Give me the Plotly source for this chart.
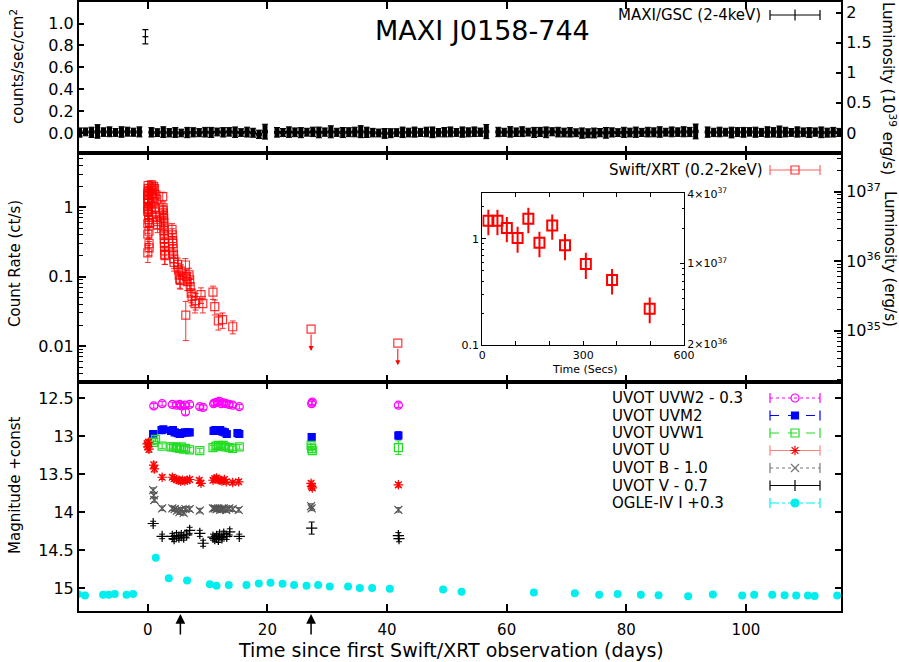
import math
import plotly.graph_objects as go

FONT = "DejaVu Sans"

# ---------------- MAXI/GSC (2-4 keV), 1-day bins ----------------
maxi_t = [-11.4, -10.4, -9.4, -8.4, -7.4, -6.4, -5.4, -4.4, -3.4, -2.4, -1.4,
          0.6, 1.6, 2.6, 3.6, 4.6, 5.6, 6.6, 7.6, 8.6, 9.6,
          10.6, 11.6, 12.6, 13.6, 14.6, 15.6, 16.6, 17.6, 18.6, 19.6,
          21.6, 22.6, 23.6, 24.6, 25.6, 26.6, 27.6, 28.6, 29.6,
          30.6, 31.6, 32.6, 33.6, 34.6, 35.6, 36.6, 37.6, 38.6, 39.6,
          40.6, 41.6, 42.6, 43.6, 44.6, 45.6, 46.6, 47.6, 48.6, 49.6,
          50.6, 51.6, 52.6, 53.6, 54.6, 55.6, 56.6, 58.6, 59.6,
          60.6, 61.6, 62.6, 63.6, 64.6, 65.6, 66.6, 67.6, 68.6, 69.6,
          70.6, 71.6, 72.6, 73.6, 74.6, 75.6, 76.6, 77.6, 78.6, 79.6,
          80.6, 81.6, 82.6, 83.6, 84.6, 85.6, 86.6, 87.6, 88.6, 89.6,
          90.6, 91.6, 93.6, 94.6, 95.6, 96.6, 97.6, 98.6, 99.6,
          100.6, 101.6, 102.6, 103.6, 104.6, 105.6, 106.6, 107.6, 108.6, 109.6,
          110.6, 111.6, 112.6, 113.6, 114.6, 115.6]
maxi_rate = [0.004, 0.010, 0.006, 0.014, 0.008, 0.011, 0.005, 0.009, 0.012, 0.007, 0.010,
             0.006, 0.003, 0.008, 0.002, 0.005, 0.000, 0.004, 0.006, 0.003, 0.007,
             0.005, 0.009, 0.006, 0.010, 0.007, 0.004, 0.008, 0.002, -0.012, 0.012,
             0.006, 0.004, 0.008, 0.006, 0.003, 0.007, 0.010, 0.005, 0.008,
             0.011, 0.006, 0.004, 0.007, 0.009, 0.012, 0.006, 0.003, 0.000, -0.004,
             -0.002, 0.003, 0.006, 0.004, 0.008, 0.005, 0.009, 0.006, 0.003, 0.007,
             0.010, 0.005, 0.008, 0.006, 0.011, 0.007, 0.013, 0.009, 0.006,
             0.010, 0.007, 0.012, 0.008, 0.005, 0.009, 0.006, 0.011, 0.008, 0.004,
             0.006, 0.002, -0.001, -0.003, 0.000, 0.003, 0.001, 0.005, 0.003, 0.006,
             0.004, 0.007, 0.005, 0.008, 0.006, 0.009, 0.007, 0.010, 0.008, 0.011,
             0.009, 0.014, 0.008, 0.005, 0.009, 0.007, 0.004, 0.008, 0.006,
             0.010, 0.007, 0.005, 0.009, 0.006, 0.012, 0.008, 0.005, 0.009, 0.006,
             0.004, 0.008, 0.006, 0.003, 0.007, 0.005]
maxi_err = [0.042, 0.036, 0.047, 0.062, 0.039, 0.045, 0.036, 0.048, 0.041, 0.037, 0.046,
            0.043, 0.036, 0.049, 0.038, 0.045, 0.035, 0.047, 0.042, 0.037, 0.044,
            0.046, 0.036, 0.043, 0.039, 0.048, 0.035, 0.045, 0.041, 0.038, 0.068,
            0.044, 0.037, 0.048, 0.040, 0.046, 0.036, 0.043, 0.049, 0.038,
            0.055, 0.037, 0.046, 0.041, 0.044, 0.055, 0.047, 0.039, 0.036, 0.045,
            0.041, 0.036, 0.048, 0.040, 0.046, 0.037, 0.044, 0.049, 0.038, 0.043,
            0.045, 0.036, 0.047, 0.041, 0.044, 0.038, 0.065, 0.043, 0.037,
            0.048, 0.039, 0.045, 0.036, 0.046, 0.042, 0.049, 0.037, 0.044, 0.040,
            0.043, 0.036, 0.047, 0.041, 0.045, 0.038, 0.049, 0.042, 0.036, 0.046,
            0.040, 0.047, 0.037, 0.044, 0.041, 0.048, 0.036, 0.045, 0.039, 0.046,
            0.042, 0.068, 0.047, 0.038, 0.044, 0.036, 0.049, 0.041, 0.045,
            0.039, 0.046, 0.037, 0.048, 0.043, 0.052, 0.044, 0.036, 0.047, 0.040,
            0.045, 0.038, 0.049, 0.041, 0.044, 0.037]
maxi_flare_t = [-0.4]
maxi_flare_rate = [0.880]
maxi_flare_err = [0.065]

# ---------------- Swift/XRT (0.2-2 keV) ----------------
xrt_t = [0.0002, 0.0005, 0.0008, 0.0012, 0.0016, 0.0020, 0.0024, 0.0028, 0.0036, 0.0045, 0.0058,
         0.06, 0.07, 0.08, 0.09, 0.13, 0.14, 0.15, 0.16, 0.20, 0.21, 0.22, 0.27,
         0.62, 0.70, 0.75, 0.82, 0.90, 0.98, 1.05, 1.12, 1.20, 1.28, 1.35, 1.42, 1.50, 1.58, 1.65,
         2.50, 2.55, 2.58, 2.60, 2.63, 2.66, 2.68, 2.70, 2.72, 2.74, 2.76, 2.78, 2.80, 2.82, 2.84, 2.86,
         4.05, 4.10, 4.15, 4.20, 4.25, 4.30, 4.35, 4.40,
         5.00, 5.15, 5.25, 5.35, 5.45, 5.55,
         6.30, 6.35, 6.45, 6.60,
         6.90, 7.00, 7.10, 7.25, 7.40, 7.90, 8.00,
         8.90, 9.20, 10.9, 11.2, 11.8, 12.5, 14.2]
xrt_rate = [1.48, 1.48, 1.27, 1.02, 1.55, 0.92, 1.34, 0.87, 0.58, 0.41, 0.22,
            2.05, 1.85, 1.70, 1.25, 1.15, 0.95, 0.78, 0.66, 0.45, 0.30, 0.26, 0.60,
            2.10, 1.95, 1.60, 1.75, 1.40, 2.00, 1.20, 1.85, 1.00, 0.85, 1.50, 0.72, 1.30, 0.62, 0.55,
            1.42, 0.98, 0.90, 0.82, 0.75, 0.68, 0.60, 0.52, 0.46, 0.40, 0.35, 0.30, 0.27, 0.24, 0.21, 0.20,
            0.48, 0.40, 0.33, 0.30, 0.25, 0.21, 0.18, 0.16,
            0.150, 0.125, 0.105, 0.092, 0.088, 0.120,
            0.147, 0.028, 0.100, 0.085,
            0.106, 0.090, 0.072, 0.058, 0.052, 0.041, 0.045,
            0.055, 0.041, 0.060, 0.037, 0.023, 0.024, 0.019]
xrt_err = [0.40, 0.40, 0.34, 0.28, 0.42, 0.25, 0.36, 0.24, 0.16, 0.11, 0.06,
           0.30, 0.28, 0.26, 0.22, 0.20, 0.18, 0.16, 0.14, 0.10, 0.07, 0.06, 0.13,
           0.30, 0.28, 0.25, 0.26, 0.22, 0.28, 0.20, 0.27, 0.18, 0.16, 0.23, 0.14, 0.21, 0.13, 0.12,
           0.22, 0.17, 0.16, 0.15, 0.14, 0.13, 0.12, 0.11, 0.10, 0.09, 0.08, 0.07, 0.07, 0.06, 0.06, 0.05,
           0.10, 0.09, 0.08, 0.07, 0.06, 0.05, 0.05, 0.04,
           0.035, 0.030, 0.026, 0.024, 0.022, 0.028,
           0.035, 0.016, 0.025, 0.022,
           0.026, 0.023, 0.019, 0.016, 0.014, 0.011, 0.012,
           0.014, 0.011, 0.013, 0.009, 0.006, 0.006, 0.004]
xrt_ul_t = [27.3, 41.8]
xrt_ul = [0.0176, 0.011]

# ---------------- inset: first 600 s ----------------
inset_t = [18, 45, 73, 105, 137, 170, 208, 246, 308, 386, 498]
inset_rate = [1.48, 1.48, 1.27, 1.02, 1.55, 0.92, 1.34, 0.87, 0.58, 0.41, 0.22]
inset_err = [0.40, 0.40, 0.34, 0.28, 0.42, 0.25, 0.36, 0.24, 0.16, 0.11, 0.06]

# ---------------- UVOT / OGLE (plotted magnitudes incl. offsets) ----------------
uvw2_t = [1.0, 2.4, 4.1, 4.8, 5.35, 5.6, 6.2, 6.3, 7.0, 8.7, 9.25, 11.0, 11.2, 11.6, 12.0, 12.3, 12.7, 13.1, 13.6, 14.2, 15.3, 27.4, 27.5, 41.9]
uvw2_m = [12.60, 12.57, 12.58, 12.59, 12.58, 12.60, 12.59, 12.68, 12.58, 12.61, 12.62, 12.57, 12.56, 12.55, 12.54, 12.57, 12.56, 12.57, 12.58, 12.59, 12.61, 12.57, 12.55, 12.59]
uvw2_e = [0.03, 0.03, 0.03, 0.03, 0.03, 0.03, 0.03, 0.04, 0.03, 0.03, 0.03, 0.03, 0.03, 0.03, 0.03, 0.03, 0.03, 0.03, 0.03, 0.03, 0.03, 0.03, 0.03, 0.03]

uvm2_t = [0.9, 2.3, 2.6, 3.9, 4.2, 4.5, 5.0, 5.35, 5.7, 6.2, 6.6, 7.0, 11.0, 11.3, 11.7, 12.1, 12.5, 12.9, 13.2, 15.0, 15.3, 27.4, 41.9]
uvm2_m = [12.97, 12.92, 12.91, 12.93, 12.92, 12.95, 12.96, 12.97, 12.96, 12.95, 12.95, 12.95, 12.93, 12.92, 12.93, 12.92, 12.94, 12.95, 12.97, 12.96, 12.97, 13.01, 12.99]
uvm2_e = [0.03, 0.03, 0.03, 0.03, 0.03, 0.03, 0.03, 0.03, 0.03, 0.03, 0.03, 0.03, 0.03, 0.03, 0.03, 0.03, 0.03, 0.03, 0.03, 0.03, 0.03, 0.03, 0.05]

uvw1_t = [1.0, 1.3, 2.4, 3.9, 4.3, 4.8, 5.3, 5.6, 6.0, 6.3, 7.0, 8.7, 10.9, 11.4, 11.8, 12.2, 12.6, 13.0, 13.6, 14.2, 15.3, 27.3, 27.4, 27.5, 41.9]
uvw1_m = [13.08, 13.04, 13.13, 13.14, 13.14, 13.15, 13.16, 13.14, 13.17, 13.16, 13.18, 13.19, 13.15, 13.13, 13.12, 13.13, 13.12, 13.14, 13.15, 13.16, 13.14, 13.12, 13.16, 13.19, 13.15]
uvw1_e = [0.03, 0.03, 0.03, 0.03, 0.03, 0.03, 0.03, 0.03, 0.03, 0.03, 0.03, 0.03, 0.03, 0.03, 0.03, 0.03, 0.03, 0.03, 0.03, 0.03, 0.03, 0.03, 0.03, 0.03, 0.09]

u_t = [-0.1, 0.0, 0.1, 0.2, 1.0, 1.1, 2.4, 4.1, 4.4, 4.8, 5.2, 5.5, 5.8, 6.2, 6.6, 7.0, 8.6, 8.9, 10.9, 11.2, 11.5, 11.8, 12.1, 12.4, 12.8, 13.1, 14.2, 15.2, 27.3, 27.4, 27.5, 41.9]
u_m = [13.10, 13.14, 13.08, 13.17, 13.38, 13.43, 13.54, 13.54, 13.56, 13.57, 13.58, 13.59, 13.58, 13.59, 13.58, 13.57, 13.58, 13.62, 13.58, 13.56, 13.55, 13.57, 13.58, 13.59, 13.57, 13.60, 13.61, 13.60, 13.62, 13.66, 13.68, 13.64]
u_e = [0.04, 0.04, 0.04, 0.04, 0.04, 0.04, 0.03, 0.03, 0.03, 0.03, 0.03, 0.03, 0.03, 0.03, 0.03, 0.03, 0.03, 0.03, 0.03, 0.03, 0.03, 0.03, 0.03, 0.03, 0.03, 0.03, 0.03, 0.03, 0.03, 0.03, 0.03, 0.03]

b_t = [0.9, 1.0, 1.1, 2.4, 4.1, 4.5, 4.9, 5.3, 5.6, 6.0, 6.3, 7.0, 8.7, 10.9, 11.2, 11.5, 11.8, 12.1, 12.4, 12.7, 13.1, 13.6, 14.2, 15.2, 27.3, 27.4, 41.9]
b_m = [13.71, 13.78, 13.84, 13.95, 13.95, 13.96, 13.98, 14.00, 13.97, 14.01, 13.96, 13.96, 13.98, 13.95, 13.95, 13.96, 13.95, 13.97, 13.96, 13.95, 13.97, 13.95, 13.96, 13.97, 13.92, 13.95, 13.97]
b_e = [0.03, 0.03, 0.03, 0.03, 0.03, 0.03, 0.03, 0.03, 0.03, 0.03, 0.03, 0.03, 0.03, 0.03, 0.03, 0.03, 0.03, 0.03, 0.03, 0.03, 0.03, 0.03, 0.03, 0.03, 0.03, 0.03, 0.03]

v_t = [0.9, 2.4, 4.1, 4.4, 4.8, 5.2, 5.6, 6.0, 6.5, 7.0, 8.7, 9.25, 10.9, 11.2, 11.5, 11.8, 12.0, 12.4, 12.7, 13.2, 13.7, 15.3, 27.4, 41.9, 42.0]
v_m = [14.15, 14.32, 14.32, 14.35, 14.31, 14.33, 14.31, 14.33, 14.30, 14.24, 14.28, 14.41, 14.33, 14.35, 14.32, 14.36, 14.30, 14.34, 14.29, 14.32, 14.26, 14.32, 14.21, 14.31, 14.35]
v_e = [0.03, 0.03, 0.04, 0.04, 0.04, 0.04, 0.04, 0.04, 0.04, 0.04, 0.04, 0.04, 0.04, 0.04, 0.04, 0.04, 0.04, 0.04, 0.04, 0.04, 0.04, 0.03, 0.08, 0.04, 0.04]

ogle_t = [-11.66, -10.5, -7.47, -6.52, -5.52, -3.56, -2.46, 1.34, 3.51, 6.57, 10.37, 11.49, 13.54,
          16.5, 18.56, 20.52, 22.53, 24.46, 26.54, 28.48, 30.43, 33.49, 35.45, 37.51, 40.47, 49.38,
          52.46, 64.55, 71.4, 75.47, 78.55, 82.44, 85.40, 90.35, 94.48, 99.38, 101.39, 104.40,
          106.47, 108.41, 110.37, 111.49, 115.27]
ogle_m = [15.08, 15.10, 15.09, 15.09, 15.08, 15.09, 15.08, 14.60, 14.87, 14.90, 14.95, 14.97, 14.96,
          14.96, 14.94, 14.93, 14.945, 14.96, 14.97, 14.96, 14.98, 14.98, 15.00, 15.00, 15.01, 15.02,
          15.05, 15.06, 15.07, 15.09, 15.08, 15.09, 15.095, 15.11, 15.085, 15.10, 15.09, 15.09,
          15.095, 15.10, 15.10, 15.105, 15.10]

arrow_days = [5.45, 27.3]

x_ticks = [0, 20, 40, 60, 80, 100]
inset_ticks = [0, 300, 600]
inset_minor_ticks = [100, 200, 400, 500]

# ---------------- helpers ----------------
PL, PR, PT, PB = 79, 841, 2, 611   # plot-area pixel box


def px_y(y):
    return (PB - y) / (PB - PT)


def px_x(x):
    return (x - PL) / (PR - PL)


fig = go.Figure()


def ebar(arr, color, thick=1.0, width=3):
    return dict(type="data", array=arr, color=color, thickness=thick, width=width)


def pann(x, y, text, size, xanchor="center", yanchor="middle", **kw):
    fig.add_annotation(x=px_x(x), y=px_y(y), xref="paper", yref="paper", text=text,
                       showarrow=False, xanchor=xanchor, yanchor=yanchor,
                       font=dict(family=FONT, size=size, color="black"), **kw)


# top panel: MAXI (dense band: thick bars, then thin capped bars on top)
fig.add_trace(go.Scatter(
    x=maxi_t, y=maxi_rate, mode="markers", xaxis="x3", yaxis="y3",
    marker=dict(size=2, color="black"),
    error_y=ebar(maxi_err, "black", 5, 0),
    error_x=dict(type="constant", value=0.5, color="black", thickness=3, width=0),
    showlegend=False, hoverinfo="skip"))
fig.add_trace(go.Scatter(
    x=maxi_t, y=maxi_rate, mode="markers", xaxis="x3", yaxis="y3",
    marker=dict(size=1, color="black"),
    error_y=ebar(maxi_err, "black", 1, 3),
    showlegend=False, hoverinfo="skip"))
fig.add_trace(go.Scatter(
    x=maxi_flare_t, y=maxi_flare_rate, mode="markers", xaxis="x3", yaxis="y3",
    marker=dict(size=2, color="black"),
    error_y=ebar(maxi_flare_err, "black", 1.2, 3),
    error_x=dict(type="constant", value=0.5, color="black", thickness=1.2, width=0),
    showlegend=False, hoverinfo="skip"))

# middle panel: XRT
XRT_C = "rgba(255,0,0,0.8)"
fig.add_trace(go.Scatter(
    x=xrt_t, y=xrt_rate, mode="markers", xaxis="x2", yaxis="y2",
    marker=dict(symbol="square-open", size=8, color=XRT_C, line=dict(width=1.2, color=XRT_C)),
    error_y=ebar(xrt_err, XRT_C, 1.0, 3), showlegend=False))
fig.add_trace(go.Scatter(
    x=xrt_ul_t, y=xrt_ul, mode="markers", xaxis="x2", yaxis="y2",
    marker=dict(symbol="square-open", size=8, color=XRT_C, line=dict(width=1.2, color=XRT_C)),
    showlegend=False))
for t, v in zip(xrt_ul_t, xrt_ul):
    fig.add_annotation(x=t, y=math.log10(v), xref="x2", yref="y2", text="", showarrow=True,
                       ax=0, ay=-18, yshift=-22, arrowhead=2, arrowsize=1, arrowwidth=1,
                       arrowcolor="red")

# inset
fig.add_trace(go.Scatter(
    x=inset_t, y=inset_rate, mode="markers", xaxis="x4", yaxis="y6",
    marker=dict(symbol="square-open", size=10, color="red", line=dict(width=2, color="red")),
    error_y=dict(type="data", array=inset_err, color="red", thickness=2, width=0),
    showlegend=False))

# empty traces so the secondary (luminosity) axes get drawn
for xa, ya in (("x3", "y5"), ("x2", "y4"), ("x4", "y7")):
    fig.add_trace(go.Scatter(x=[], y=[], xaxis=xa, yaxis=ya, mode="markers",
                             showlegend=False, hoverinfo="skip"))

# bottom panel
series = [
    (uvw2_t, uvw2_m, uvw2_e, "#ff00ff", "circle-open", 8),
    (uvm2_t, uvm2_m, uvm2_e, "#0000ff", "square", 7),
    (uvw1_t, uvw1_m, uvw1_e, "#22dd22", "square-open", 8),
    (u_t, u_m, u_e, "#ff0000", "asterisk-open", 8),
    (b_t, b_m, b_e, "#555555", "x-thin-open", 8),
    (v_t, v_m, v_e, "#000000", "cross-thin-open", 8),
]
for t, m, e, c, sym, sz in series:
    fig.add_trace(go.Scatter(
        x=t, y=m, mode="markers", xaxis="x", yaxis="y",
        marker=dict(symbol=sym, size=sz, color=c, line=dict(width=1.2, color=c)),
        error_y=ebar(e, c, 1.0, 3), showlegend=False))
fig.add_trace(go.Scatter(
    x=ogle_t, y=ogle_m, mode="markers", xaxis="x", yaxis="y",
    marker=dict(symbol="circle", size=8, color="#00eeee"), showlegend=False))

# ---------------- legends (samples drawn on a pixel helper axis) ----------------
legend_rows = [
    ("MAXI/GSC (2-4keV)", "#000000", "solid", "line-ns-open", 8, 15, "right", 763),
    ("Swift/XRT (0.2-2keV)", "#ff6060", "solid", "square-open", 8, 170, "right", 765),
    ("UVOT UVW2 - 0.3", "#ff00ff", "dot", "circle-open", 8, 398, "left", 610),
    ("UVOT UVM2", "#0000ff", "dash", "square", 7, 415.5, "left", 610),
    ("UVOT UVW1", "#22dd22", "dash", "square-open", 8, 433, "left", 610),
    ("UVOT U", "#ff8080", "solid", "asterisk-open", 8, 450.5, "left", 610),
    ("UVOT B - 1.0", "#777777", "dot", "x-thin-open", 8, 468, "left", 610),
    ("UVOT V - 0.7", "#000000", "solid", "line-ns-open", 8, 485.5, "left", 610),
    ("OGLE-IV I +0.3", "#00eeee", "dashdot", "circle", 8, 503, "left", 610),
]
mcol = {"UVOT U": "#ff0000", "Swift/XRT (0.2-2keV)": "#ff3030"}
for text, col, dash, sym, sz, yy, anchor, tx in legend_rows:
    fig.add_trace(go.Scatter(
        x=[770, 820], y=[yy, yy], mode="lines+markers", xaxis="x5", yaxis="y8",
        line=dict(color=col, width=1.2, dash=dash),
        marker=dict(symbol="line-ns-open", size=7, line=dict(color=col, width=1.2)),
        showlegend=False, hoverinfo="skip"))
    mc = mcol.get(text, col)
    fig.add_trace(go.Scatter(
        x=[795], y=[yy], mode="markers", xaxis="x5", yaxis="y8",
        marker=dict(symbol=sym, size=sz, color=mc, line=dict(color=mc, width=1.2)),
        showlegend=False, hoverinfo="skip"))
    pann(tx, yy, text, 15, xanchor=anchor)

# titles and labels
pann(482, 30, "MAXI J0158-744", 27)
pann(17, 67, "counts/sec/cm<sup>2</sup>", 15, textangle=-90)
pann(15, 264, "Count Rate (ct/s)", 15, textangle=-90)
pann(15, 485, "Magnitude +const", 15, textangle=-90)
pann(889, 88, "Luminosity (10<sup>39</sup> erg/s)", 15, textangle=90)
pann(890, 259, "Luminosity (erg/s)", 15, textangle=90)
pann(451, 650, "Time since first Swift/XRT observation (days)", 19)
pann(585, 369, "Time (Secs)", 11)

for d in arrow_days:
    fig.add_annotation(x=d, y=px_y(614), xref="x", yref="paper", text="", showarrow=True,
                       ax=0, ay=22, arrowhead=2, arrowsize=1.3, arrowwidth=1.5,
                       arrowcolor="black")

# ---------------- axes ----------------
base = dict(showline=True, linecolor="black", linewidth=2, ticks="inside", tickcolor="black",
            tickwidth=1.5, showgrid=False, zeroline=False, automargin=False,
            tickfont=dict(family=FONT, size=16, color="black"))

bot = [0, px_y(382)]
mid = [px_y(382), px_y(153)]
top = [px_y(153), 1]

minor_mid = [m * 10.0 ** e for e in (-3, -2, -1, 0) for m in range(2, 10)]
minor_lum = [m * 10.0 ** e for e in (34, 35, 36, 37) for m in range(2, 10)]
minor_in = [m * 10.0 ** e for e in (-1, 0) for m in range(2, 10)]
minor_in_lum = [2e37, 3e37, 3e36, 4e36, 5e36, 6e36, 7e36, 8e36, 9e36]

fig.update_layout(
    width=899, height=662,
    margin=dict(l=PL, r=899 - PR, t=PT, b=662 - PB, pad=0, autoexpand=False),
    paper_bgcolor="white", plot_bgcolor="rgba(0,0,0,0)",
    font=dict(family=FONT, color="black"), showlegend=False,
    xaxis=dict(base, domain=[0, 1], anchor="y", range=[-11.5, 115.9], tickvals=x_ticks,
               ticklen=7, mirror="ticks", ticklabelstandoff=4,
               tickfont=dict(family=FONT, size=15, color="black")),
    xaxis2=dict(base, domain=[0, 1], anchor="y2", matches="x", tickvals=x_ticks, ticklen=7,
                mirror="ticks", showticklabels=False),
    xaxis3=dict(base, domain=[0, 1], anchor="y3", matches="x", tickvals=x_ticks, ticklen=7,
                mirror="ticks", showticklabels=False),
    yaxis=dict(base, domain=bot, anchor="x", range=[15.303, 12.285],
               tickvals=[12.5, 13, 13.5, 14, 14.5, 15],
               ticktext=["12.5", "13", "13.5", "14", "14.5", "15"], ticklen=6, mirror="ticks"),
    yaxis2=dict(base, domain=mid, anchor="x2", type="log", range=[-2.517, 0.78],
                tickvals=[0.01, 0.1, 1], ticktext=["0.01", "0.1", "1"], ticklen=7, mirror=True,
                minor=dict(ticks="inside", ticklen=4, tickcolor="black", tickwidth=1,
                           tickvals=minor_mid, showgrid=False)),
    yaxis3=dict(base, domain=top, anchor="x3", range=[-0.183, 1.197],
                tickvals=[0, 0.2, 0.4, 0.6, 0.8, 1.0], tickformat=".1f", ticklen=5, mirror=True),
    yaxis4=dict(base, overlaying="y2", side="right", anchor="x2", type="log",
                range=[34.261, 37.558], tickvals=[1e35, 1e36, 1e37],
                ticktext=["10<sup>35</sup>", "10<sup>36</sup>", "10<sup>37</sup>"], ticklen=7,
                minor=dict(ticks="inside", ticklen=4, tickcolor="black", tickwidth=1,
                           tickvals=minor_lum, showgrid=False)),
    yaxis5=dict(base, overlaying="y3", side="right", anchor="x3", range=[-0.333, 2.175],
                tickvals=[0, 0.5, 1, 1.5, 2], ticktext=["0", "0.5", "1", "1.5", "2"], ticklen=5),
    xaxis4=dict(base, domain=[px_x(482.3), px_x(684)], anchor="y6", range=[0, 600],
                tickvals=inset_ticks, linewidth=1, ticklen=4,
                tickwidth=1, mirror="ticks", tickfont=dict(family=FONT, size=11, color="black"),
                minor=dict(ticks="inside", ticklen=4, tickcolor="black", tickwidth=1,
                           tickvals=inset_minor_ticks, showgrid=False)),
    yaxis6=dict(base, domain=[px_y(345), px_y(193.3)], anchor="x4", type="log",
                range=[-1, 0.43], tickvals=[0.1, 1], ticktext=["0.1", "1"], linewidth=1,
                ticklen=4, tickwidth=1, mirror=True,
                tickfont=dict(family=FONT, size=11, color="black"),
                minor=dict(ticks="inside", ticklen=2, tickcolor="black", tickwidth=1,
                           tickvals=minor_in, showgrid=False)),
    yaxis7=dict(base, overlaying="y6", side="right", anchor="x4", type="log",
                range=[36.296, 37.607], tickvals=[2e36, 1e37, 4e37],
                ticktext=["2×10<sup>36</sup>", "1×10<sup>37</sup>", "4×10<sup>37</sup>"],
                linewidth=1, ticklen=4, tickwidth=1,
                tickfont=dict(family=FONT, size=11, color="black"),
                minor=dict(ticks="inside", ticklen=2, tickcolor="black", tickwidth=1,
                           tickvals=minor_in_lum, showgrid=False)),
    xaxis5=dict(domain=[0, 1], anchor="y8", range=[PL, PR], visible=False, fixedrange=True,
                automargin=False),
    yaxis8=dict(domain=[0, 1], anchor="x5", range=[PB, PT], visible=False, fixedrange=True,
                automargin=False),
)

fig.write_html("out.html", config={"displayModeBar": False},
               post_script="document.body.style.margin='0px';")
